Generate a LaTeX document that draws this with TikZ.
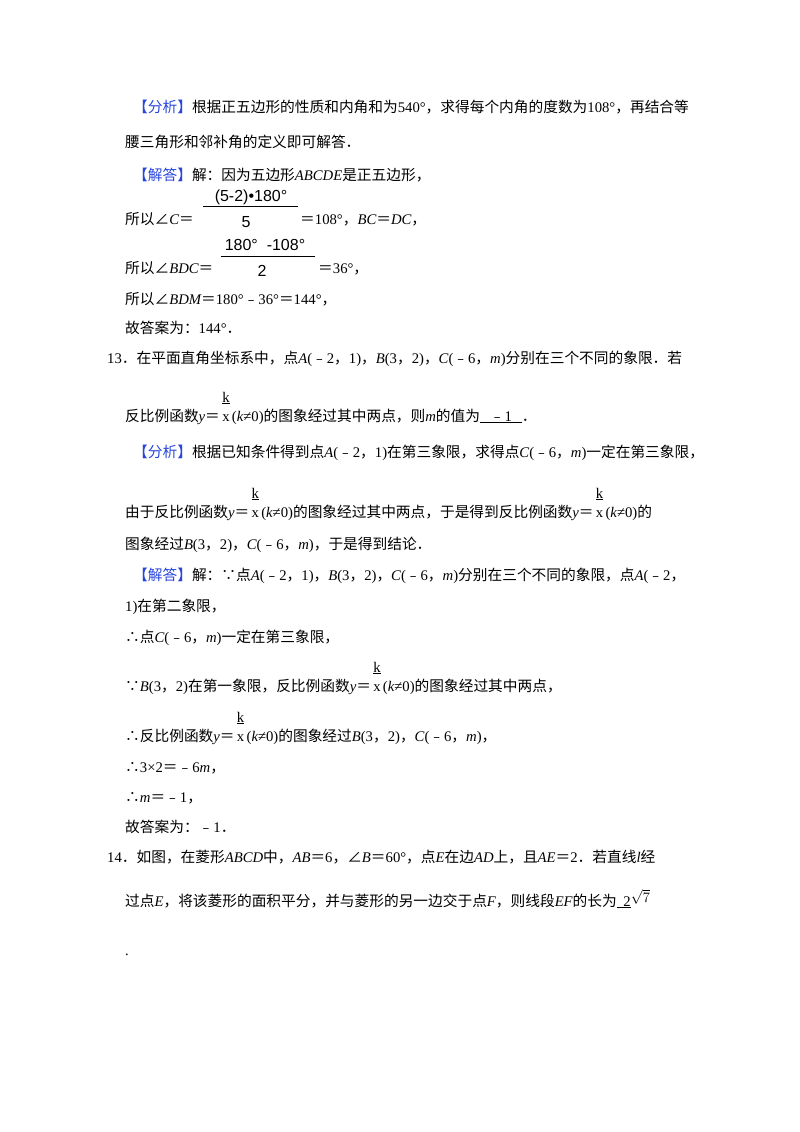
\documentclass[tikz,border=0pt]{standalone}
\usepackage{fontspec}
\setmainfont{Noto Sans CJK SC}
\newfontfamily\lat{Liberation Serif}
\newfontfamily\sans{Liberation Sans}
\newcommand{\R}[1]{{\lat #1}}
\newcommand{\I}[1]{{\lat\itshape #1}}
\newcommand{\mn}{﹣}
\newcommand{\kx}{\hbox to 12pt{\hss\lat x\hss}\llap{\raisebox{19pt}{\hbox to 12pt{\hss\underline{\lat k}\hss}}}}
\definecolor{tagblue}{RGB}{40,70,220}
\newcommand{\tg}[1]{\textcolor{tagblue}{【#1】}}
\begin{document}
\begin{tikzpicture}[x=1pt,y=-1pt,
  ln/.style={anchor=base west,inner sep=0,font=\fontsize{14.7}{16}\selectfont},
  fr/.style={anchor=base,inner sep=0,font=\sans\fontsize{16}{17}\selectfont}]
\useasboundingbox (0,0) rectangle (800,1132);
\node[ln] (l1) at (133,112) {\tg{分析}根据正五边形的性质和内角和为\R{540°}，求得每个内角的度数为\R{108°}，再结合等};
\node[ln] (l2) at (125,147) {腰三角形和邻补角的定义即可解答．};
\node[ln] (l3) at (133,180) {\tg{解答}解：因为五边形\I{ABCDE}是正五边形，};
\node[fr] (n1) at (251,201) {(5-2)•180°};
\draw (203,206) -- (298,206);
\node[fr] (d1) at (246,227) {5};
\node[ln] (l4) at (125,224) {所以∠\I{C}＝};
\node[ln] (l4b) at (300,224) {＝\R{108°}，\I{BC}＝\I{DC}，};
\node[fr] (n2) at (265,250) {180°\ \ -108°};
\draw (221,256) -- (315,256);
\node[fr] (d2) at (262,276) {2};
\node[ln] (l5) at (125,273) {所以∠\I{BDC}＝};
\node[ln] (l5b) at (318,273) {＝\R{36°}，};
\node[ln] (l6) at (125,304) {所以∠\I{BDM}＝\R{180°}\mn\R{36°}＝\R{144°}，};
\node[ln] (l7) at (125,333) {故答案为：\R{144°}．};
\node[ln] (l8) at (107,363) {\R{13}．在平面直角坐标系中，点\I{A}\R{(}\mn\R{2}，\R{1)}，\I{B}\R{(3}，\R{2)}，\I{C}\R{(}\mn\R{6}，\I{m}\R{)}分别在三个不同的象限．若};
\node[ln] (l9) at (125,421) {反比例函数\I{y}＝\kx\R{(}\I{k}\R{≠0)}的图象经过其中两点，则\I{m}的值为\underline{\ \ \ \mn\R{1}\ \ \ }．};
\node[ln] (l10) at (133,457) {\tg{分析}根据已知条件得到点\I{A}\R{(}\mn\R{2}，\R{1)}在第三象限，求得点\I{C}\R{(}\mn\R{6}，\I{m}\R{)}一定在第三象限，};
\node[ln] (l11) at (125,517) {由于反比例函数\I{y}＝\kx\R{(}\I{k}\R{≠0)}的图象经过其中两点，于是得到反比例函数\I{y}＝\kx\R{(}\I{k}\R{≠0)}的};
\node[ln] (l12) at (125,549) {图象经过\I{B}\R{(3}，\R{2)}，\I{C}\R{(}\mn\R{6}，\I{m}\R{)}，于是得到结论．};
\node[ln] (l13) at (133,580) {\tg{解答}解：∵点\I{A}\R{(}\mn\R{2}，\R{1)}，\I{B}\R{(3}，\R{2)}，\I{C}\R{(}\mn\R{6}，\I{m}\R{)}分别在三个不同的象限，点\I{A}\R{(}\mn\R{2}，};
\node[ln] (l14) at (125,611) {\R{1)}在第二象限，};
\node[ln] (l15) at (125,642) {∴点\I{C}\R{(}\mn\R{6}，\I{m}\R{)}一定在第三象限，};
\node[ln] (l16) at (125,691) {∵\I{B}\R{(3}，\R{2)}在第一象限，反比例函数\I{y}＝\kx\R{(}\I{k}\R{≠0)}的图象经过其中两点，};
\node[ln] (l17) at (125,741) {∴反比例函数\I{y}＝\kx\R{(}\I{k}\R{≠0)}的图象经过\I{B}\R{(3}，\R{2)}，\I{C}\R{(}\mn\R{6}，\I{m}\R{)}，};
\node[ln] (l18) at (125,772) {∴\R{3×2}＝\mn\R{6}\I{m}，};
\node[ln] (l19) at (125,802) {∴\I{m}＝\mn\R{1}，};
\node[ln] (l20) at (125,832) {故答案为：\mn\R{1}．};
\node[ln] (l21) at (107,862) {\R{14}．如图，在菱形\I{ABCD}中，\I{AB}＝\R{6}，∠\I{B}＝\R{60°}，点\I{E}在边\I{AD}上，且\I{AE}＝\R{2}．若直线\I{l}经};
\node[ln] (l22) at (125,906) {过点\I{E}，将该菱形的面积平分，并与菱形的另一边交于点\I{F}，则线段\I{EF}的长为\underline{\ \ \R{2}}\raisebox{4pt}{\R{$\sqrt{7}$}}};
\node[ln] (l23) at (125,955) {\R{.}};
\end{tikzpicture}
\end{document}
